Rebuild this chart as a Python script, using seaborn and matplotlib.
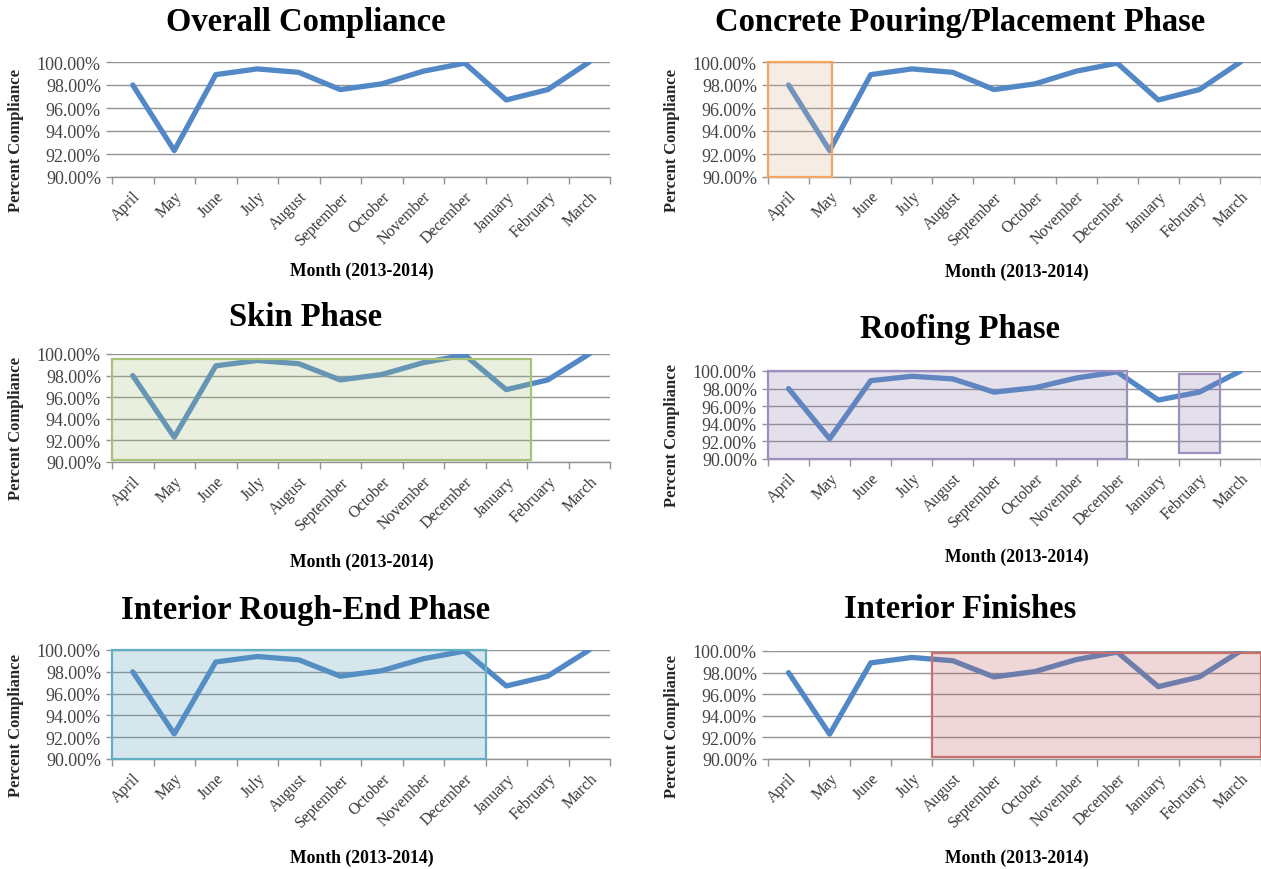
"""
Monthly safety compliance by construction phase, 2013-2014.
"""

import matplotlib
matplotlib.use("Agg")
import matplotlib.pyplot as plt
import matplotlib.patches as mpatches
import matplotlib.transforms as mtransforms
from matplotlib.ticker import FuncFormatter, FixedLocator
import seaborn as sns
import pandas as pd

# Data
months = ["April", "May", "June", "July", "August", "September", "October",
          "November", "December", "January", "February", "March"]
compliance = [98.0, 92.3, 98.9, 99.4, 99.1, 97.6, 98.1, 99.2, 99.9, 96.7, 97.6, 100.0]

titles = ["Overall Compliance", "Concrete Pouring/Placement Phase", "Skin Phase",
          "Roofing Phase", "Interior Rough-End Phase", "Interior Finishes"]

# phase highlight spans as (first slot edge, last slot edge, low %, high %)
phase_spans = [
    [],
    [(-0.5, 1.05, 90.0, 100.0)],
    [(-0.5, 9.6, 90.2, 99.5)],
    [(-0.5, 8.25, 90.0, 100.0), (9.5, 10.5, 90.7, 99.7)],
    [(-0.5, 8.5, 90.0, 100.0)],
    [(3.5, 11.5, 90.2, 99.8)],
]
phase_colors = [
    None,
    ("#d9b497", "#f4a561"),
    ("#a8c080", "#a9c27a"),
    ("#9080b0", "#9f8fc0"),
    ("#5aa0b8", "#62afc4"),
    ("#c06060", "#c87070"),
]

df = pd.DataFrame({"month": months, "pct": compliance})
df["pos"] = range(len(months))

W, H = 1261, 870
LINE_BLUE = "#5288c6"
GRID = "#939393"

sns.set_style("white")
plt.rcParams["font.family"] = ["Liberation Serif", "DejaVu Serif"]

fig = plt.figure(figsize=(W / 100, H / 100), dpi=100)

# pixel layout of each panel: (left, right, y of 100%, y of 90%, title y, xlabel y)
layout = [
    (112, 610, 63, 178, 23, 271),
    (768, 1261, 63, 178, 23, 272),
    (112, 610, 355, 463, 318, 562),
    (768, 1261, 372, 460, 330, 557),
    (112, 610, 651, 760, 610, 858),
    (768, 1261, 652, 760, 610, 858),
]

shift = mtransforms.ScaledTranslation(6 / 100, -3 / 100, fig.dpi_scale_trans)

for i, (title, spans, cols, lay) in enumerate(zip(titles, phase_spans, phase_colors, layout)):
    x0, x1, y100, y90, ty, xly = lay
    ax = fig.add_axes([x0 / W, 1 - y90 / H, (x1 - x0) / W, (y90 - y100) / H])

    sns.lineplot(data=df, x="pos", y="pct", ax=ax, color=LINE_BLUE,
                 linewidth=3.8, zorder=3)

    for (a, b, lo, hi) in spans:
        face, edge = cols
        ax.add_patch(mpatches.Rectangle((a, lo), b - a, hi - lo,
                                        facecolor=face, alpha=0.25, edgecolor="none",
                                        zorder=4, clip_on=False))
        ax.add_patch(mpatches.Rectangle((a, lo), b - a, hi - lo,
                                        facecolor="none", edgecolor=edge,
                                        linewidth=1.6, zorder=5, clip_on=False))

    ax.set_xlim(-0.5, len(months) - 0.5)
    ax.set_ylim(90, 100)
    ax.set_yticks([90, 92, 94, 96, 98, 100])
    ax.yaxis.set_major_formatter(FuncFormatter(lambda v, p: f"{v:.2f}%"))
    ax.grid(axis="y", color=GRID, linewidth=1.0, zorder=0)
    ax.grid(axis="x", visible=False)

    ax.set_xticks(df["pos"])
    ax.set_xticklabels(months, rotation=45, ha="right", rotation_mode="anchor",
                       fontsize=11.5, color="#3a3a3a")
    for lbl in ax.get_xticklabels():
        lbl.set_transform(lbl.get_transform() + shift)
    ax.xaxis.set_minor_locator(FixedLocator([k - 0.5 for k in range(len(months) + 1)]))
    ax.tick_params(axis="x", which="major", length=0, pad=8)
    ax.tick_params(axis="x", which="minor", length=5, width=1, color=GRID, direction="out")
    ax.tick_params(axis="y", length=4, width=1, color=GRID, direction="out",
                   labelsize=13, labelcolor="#444444", pad=4)
    ax.tick_params(left=True, bottom=True, which="both")

    for s in ["top", "right", "left"]:
        ax.spines[s].set_visible(False)
    ax.spines["bottom"].set_color(GRID)
    ax.spines["bottom"].set_linewidth(1.0)

    # y title sits a little below the plot centre, as in the source
    ax.set_xlabel("")
    ax.set_ylabel("Percent Compliance", fontsize=12, fontweight="bold")
    lab_x = 24 if x0 < 600 else 680
    lab_y = (y100 + y90) / 2 + 20
    ax.yaxis.set_label_coords((lab_x - x0) / (x1 - x0), (y90 - lab_y) / (y90 - y100))

    cx = 306 if x0 < 600 else 960
    fig.text(cx / W, 1 - ty / H, title, ha="center", va="center",
             fontsize=23.5, fontweight="bold", color="black")
    mx = 362 if x0 < 600 else 1017
    fig.text(mx / W, 1 - xly / H, "Month (2013-2014)", ha="center", va="center",
             fontsize=12.7, fontweight="bold", color="black")

fig.savefig("out.png", dpi=100)
